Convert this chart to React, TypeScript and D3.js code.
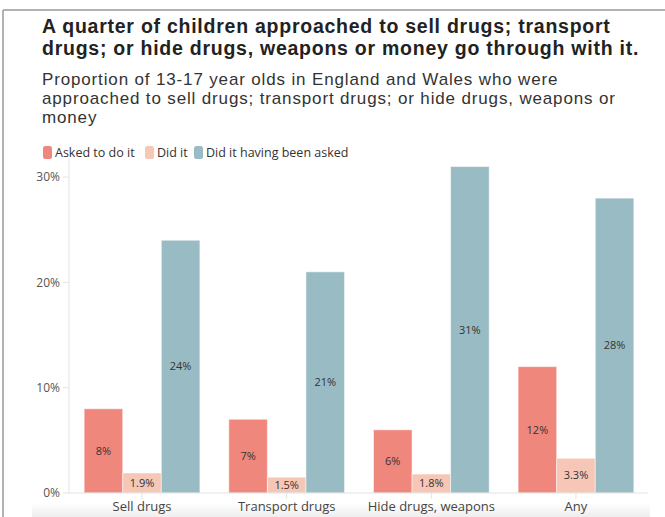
import React from "react";
import * as d3 from "d3";

const categories = ["Sell drugs", "Transport drugs", "Hide drugs, weapons", "Any"];
const seriesNames = ["Asked to do it", "Did it", "Did it having been asked"];
const askedToDoIt = [8, 7, 6, 12];
const didIt = [1.9, 1.5, 1.8, 3.3];
const didItHavingBeenAsked = [24, 21, 31, 28];
const valueLabels = [
  ["8%", "7%", "6%", "12%"],
  ["1.9%", "1.5%", "1.8%", "3.3%"],
  ["24%", "21%", "31%", "28%"],
];
const yTicks = [0, 10, 20, 30];
const colors = ["#F0877D", "#F6C6B6", "#99BBC3"];

const titleLines = [
  "A quarter of children approached to sell drugs; transport",
  "drugs; or hide drugs, weapons or money go through with it.",
];
const subtitleLines = [
  "Proportion of 13-17 year olds in England and Wales who were",
  "approached to sell drugs; transport drugs; or hide drugs, weapons or",
  "money",
];

const FONT = "'Open Sans', 'Noto Sans', sans-serif";
const HEAD_FONT = "'Liberation Sans', Arial, sans-serif";

export default function App() {
  const W = 665;
  const H = 517;
  const series = [askedToDoIt, didIt, didItHavingBeenAsked];
  const x0 = d3.scaleBand<string>().domain(categories).range([69.7, 648.3]).padding(0);
  const groupW = x0.bandwidth() * 0.8;
  const x1 = d3
    .scaleBand<number>()
    .domain([0, 1, 2])
    .range([0, groupW])
    .padding(0);
  const y = d3.scaleLinear().domain([0, 32]).range([493, 156]);

  return (
    <svg
      width={W}
      height={H}
      style={{ position: "absolute", left: 0, top: 0, background: "#fff" }}
      fontFamily={FONT}
    >
      <rect x={0} y={0} width={W} height={H} fill="#fff" />
      {/* frame */}
      <line x1={3} y1={10} x2={W} y2={10} stroke="#9a9a9a" strokeWidth={1.5} />
      <line x1={3} y1={10} x2={3} y2={H} stroke="#9a9a9a" strokeWidth={1.5} />
      {/* bottom strip */}
      <defs>
        <linearGradient id="strip" x1="0" y1="0" x2="0" y2="1">
          <stop offset="0" stopColor="#ffffff" />
          <stop offset="1" stopColor="#eeeeee" />
        </linearGradient>
      </defs>
      <rect x={32} y={503} width={618} height={14} fill="url(#strip)" />

      {/* title */}
      {titleLines.map((t, i) => (
        <text
          key={"t" + i}
          x={42}
          y={33 + i * 22}
          fontFamily={HEAD_FONT}
          fontSize={19.5}
          fontWeight={700}
          letterSpacing={0.75}
          fill="#222"
        >
          {t}
        </text>
      ))}
      {subtitleLines.map((t, i) => (
        <text
          key={"s" + i}
          x={42}
          y={85 + i * 19.2}
          fontFamily={HEAD_FONT}
          fontSize={17}
          letterSpacing={0.85}
          fill="#333"
        >
          {t}
        </text>
      ))}

      {/* legend */}
      {(() => {
        let cx = 43;
        const widths = [90, 37, 150];
        return seriesNames.map((name, i) => {
          const gx = cx;
          cx += widths[i] + 12;
          return (
            <g key={"l" + i} transform={`translate(${gx},146)`}>
              <rect x={0} y={0} width={9} height={13} rx={2.5} fill={colors[i]} />
              <text x={12} y={11} fontSize={12.5} fill="#333">
                {name}
              </text>
            </g>
          );
        });
      })()}

      {/* y axis */}
      <line x1={69} y1={158} x2={69} y2={493} stroke="#e3e3e3" strokeWidth={1} />
      {yTicks.map((t) => (
        <g key={"y" + t}>
          <line x1={63} y1={y(t)} x2={69} y2={y(t)} stroke="#e3e3e3" />
          <text
            x={60}
            y={y(t)}
            dy="0.35em"
            textAnchor="end"
            fontSize={12}
            fill="#555"
          >
            {t}%
          </text>
        </g>
      ))}

      {/* bars */}
      {categories.map((c, ci) => {
        const gx = (x0(c) as number) + (x0.bandwidth() - groupW) / 2;
        return (
          <g key={"c" + ci} transform={`translate(${gx},0)`}>
            {series.map((s, si) => {
              const bx = x1(si) as number;
              const by = y(s[ci]);
              const bh = y(0) - by;
              return (
                <g key={"b" + si}>
                  <rect
                    x={bx}
                    y={by}
                    width={x1.bandwidth()}
                    height={bh}
                    fill={colors[si]}
                    stroke="#ffffff"
                    strokeOpacity={0.5}
                    strokeWidth={1}
                  />
                  <text
                    x={bx + x1.bandwidth() / 2}
                    y={by + bh / 2}
                    dy="0.35em"
                    textAnchor="middle"
                    fontSize={11}
                    fill="#333"
                  >
                    {valueLabels[si][ci]}
                  </text>
                </g>
              );
            })}
          </g>
        );
      })}

      {/* baseline */}
      <line x1={69} y1={493} x2={648} y2={493} stroke="#e3e3e3" strokeWidth={1} />
      {categories.map((c) => {
        const cx = (x0(c) as number) + x0.bandwidth() / 2;
        return (
          <g key={"x" + c}>
            <line x1={cx} y1={493} x2={cx} y2={499} stroke="#e3e3e3" />
            <text
              x={cx}
              y={506}
              dy="0.35em"
              textAnchor="middle"
              fontSize={13}
              fill="#444"
            >
              {c}
            </text>
          </g>
        );
      })}
    </svg>
  );
}
